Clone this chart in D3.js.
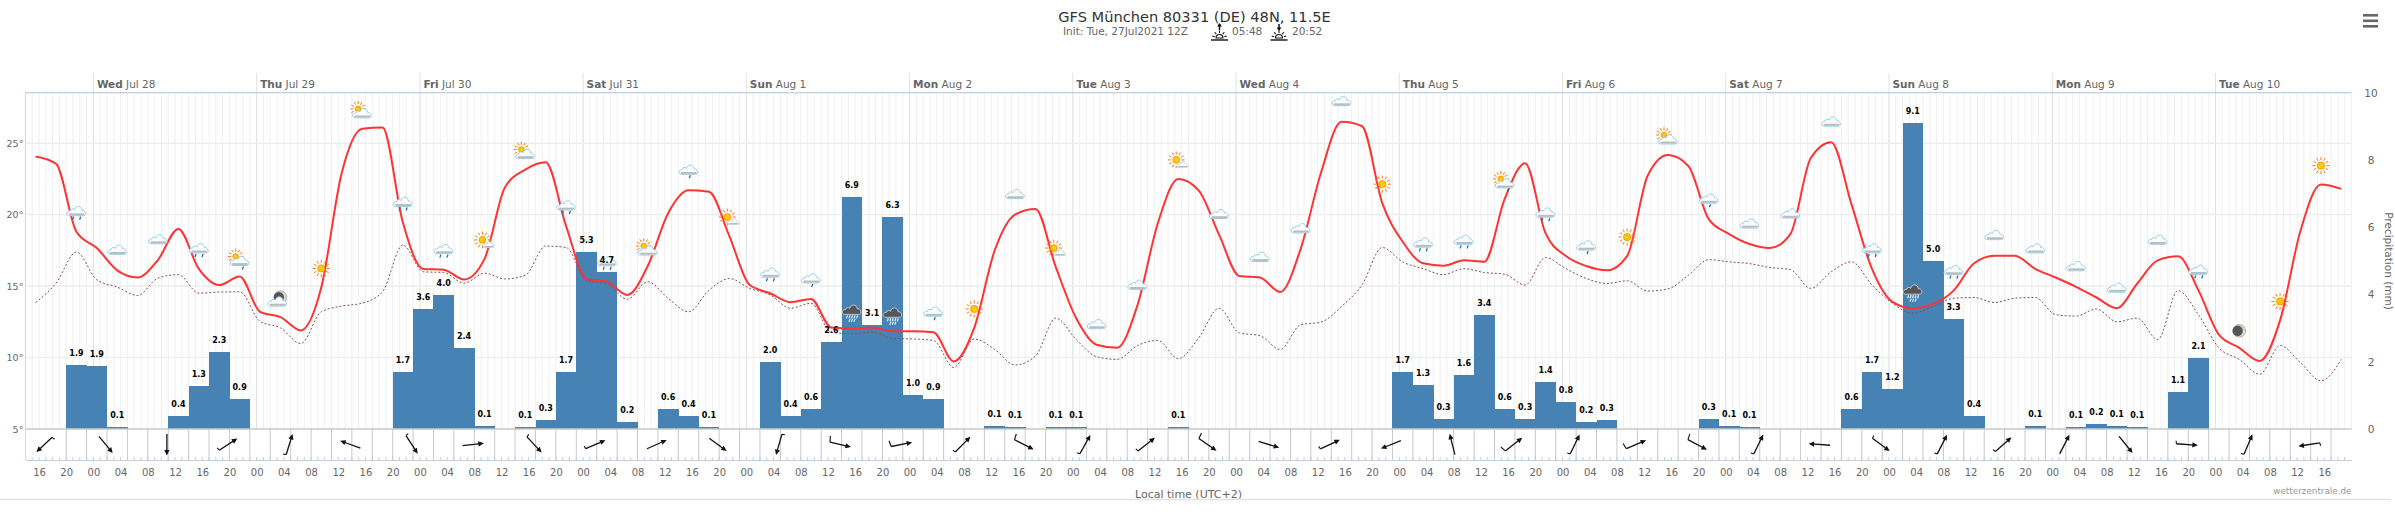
<!DOCTYPE html>
<html>
<head>
<meta charset="utf-8">
<script src="https://cdn.jsdelivr.net/npm/d3@7"></script>
<style>
  html, body { margin: 0; padding: 0; background: #fff; }
  svg { display: block; font-family: "DejaVu Sans", sans-serif; }
  .tick text { fill: #666; }
</style>
</head>
<body>
<div id="plot"></div>
<script>
const W = 2395, H = 514;
const plotLeft = 25.4, plotRight = 2351.5, plotTop = 92.7, base = 429, windBottom = 460;

// 3-hourly 2m temperature, first value at Jul 27 15:30 local
const temp = [
  24.07, 23.56, 18.8, 17.66, 16.1, 15.6, 16.84, 19.0, 16.2, 15.07, 15.67, 13.2, 12.83, 11.9, 14.9, 22.9,
  26.0, 26.09, 19.45, 16.2, 16.15, 15.46, 16.9, 21.9, 23.15, 23.66, 19.2, 15.5, 15.3, 14.38, 16.4, 20.1,
  21.7, 21.6, 18.5, 15.07, 14.5, 13.87, 14.1, 12.1, 12.04, 12.1, 11.84, 11.84, 11.77, 9.73, 12.07, 17.47,
  20.0, 20.4, 16.33, 12.75, 10.9, 10.68, 13.65, 19.4, 22.5, 21.7, 18.6, 15.7, 15.6, 14.58, 17.6, 22.95,
  26.5, 26.2, 20.8, 18.1, 16.6, 16.43, 16.8, 16.7, 21.1, 23.6, 18.7, 17.1, 16.4, 16.1, 17.1, 22.7,
  24.17, 23.4, 19.68, 18.64, 17.94, 17.66, 18.64, 23.96, 25.07, 20.7, 16.2, 13.9, 13.45, 13.75, 14.68, 16.6,
  17.13, 17.13, 16.2, 15.6, 14.95, 14.2, 13.45, 15.18, 16.8, 17.08, 14.7, 11.6, 10.68, 9.76, 12.6, 18.87,
  22.1, 21.8
];

// dew point, same times
const dew = [
  13.85, 15.2, 17.38, 15.44, 14.93, 14.34, 15.56, 15.8, 14.5, 14.58, 14.6, 12.53, 12.07, 10.98, 13.2, 13.6,
  13.8, 14.6, 17.87, 16.0, 15.95, 15.2, 15.9, 15.5, 15.76, 17.8, 17.7, 15.4, 15.14, 14.08, 15.3, 14.15,
  13.2, 14.7, 15.53, 14.84, 14.38, 13.45, 13.8, 11.77, 11.67, 11.77, 11.33, 11.3, 11.2, 9.3, 11.3, 10.57,
  9.48, 10.1, 12.76, 11.26, 10.06, 9.87, 10.84, 11.2, 9.92, 11.37, 13.45, 11.72, 11.53, 10.57, 12.3, 12.48,
  13.57, 15.07, 17.7, 16.69, 16.22, 15.8, 16.22, 15.95, 15.83, 15.07, 17.0, 16.22, 15.53, 15.18, 15.37, 14.65,
  14.8, 15.76, 16.85, 16.7, 16.57, 16.3, 16.15, 14.84, 16.0, 16.7, 15.07, 13.8, 13.1, 13.57, 14.15, 14.2,
  13.85, 14.15, 14.2, 13.0, 12.9, 13.4, 12.5, 12.76, 11.26, 14.68, 13.0, 10.68, 9.87, 8.83, 10.84, 9.64,
  8.37, 9.87
];

// 3h precipitation (mm), first bar starts Jul 27 20:00
const precip = [
  1.9, 1.87, 0.05, 0, 0, 0.4, 1.28, 2.3, 0.9, 0, 0, 0, 0, 0, 0, 0,
  1.7, 3.56, 3.97, 2.41, 0.1, 0, 0.05, 0.28, 1.7, 5.27, 4.67, 0.2, 0, 0.6, 0.4, 0.05,
  0, 0, 2.0, 0.4, 0.6, 2.6, 6.9, 3.1, 6.3, 1.0, 0.9, 0, 0, 0.1, 0.05, 0,
  0.05, 0.05, 0, 0, 0, 0, 0.05, 0, 0, 0, 0, 0, 0, 0, 0, 0,
  0, 1.7, 1.3, 0.3, 1.6, 3.4, 0.6, 0.3, 1.4, 0.8, 0.2, 0.26, 0, 0, 0, 0,
  0.3, 0.1, 0.05, 0, 0, 0, 0, 0.6, 1.7, 1.2, 9.1, 5.0, 3.26, 0.4, 0, 0,
  0.1, 0, 0.05, 0.16, 0.1, 0.05, 0, 1.1, 2.1
];

// wind arrows every 9h: [bearing the arrow points to, barb size]
const wind = [
  [227, 1], [140, 0], [180, 0], [57, 1], [17, 1], [290, 0], [147, 1], [84, 0], [137, 1], [67, 1],
  [66, 0], [126, 0], [196, 1], [103, 2], [79, 2], [45, 1], [117, 2], [29, 1], [52, 1], [125, 2],
  [107, 0], [65, 1], [248, 0], [346, 0], [52, 2], [26, 1], [67, 2], [118, 2], [26, 1], [274, 0],
  [127, 1], [27, 1], [48, 1], [27, 0], [141, 0], [94, 1], [23, 1], [261, 1]
];

// weather symbols on every second temperature point, starting at index 2
const icons = [
  'r2', 'c', 'c', 'r2', 'psr', 'mc', 's', 'ps', 'r2', 'r2', 'sm', 'ps', 'r2', 'r2', 'ps', 'r1',
  'sm', 'r2', 'r1', 'd', 'd', 'r1', 's', 'c', 'sm', 'c', 'c', 'sm', 'c', 'c', 'c', 'c',
  's', 'r2', 'r2', 'psr', 'r2', 'r1', 's', 'ps', 'r1', 'c', 'c', 'c', 'r2', 'd', 'r2', 'c',
  'c', 'c', 'c', 'c', 'r2', 'm', 's', 's'
];

const t0 = Date.UTC(2021, 6, 28);
const hour = h => new Date(t0 + h * 3600e3);

const x = d3.scaleUtc().domain([hour(-10), hour(332)]).range([plotLeft, plotRight]);
const yTemp = d3.scaleLinear().domain([5, 28.53]).range([base, plotTop]);
const yPrecip = d3.scaleLinear().domain([0, 10]).range([base, plotTop]);

const svg = d3.select('#plot').append('svg').attr('width', W).attr('height', H);

// minor hourly grid
svg.append('g').selectAll('line')
  .data(d3.utcHour.every(1).range(hour(-10), hour(332.1)))
  .enter().append('line')
  .attr('x1', d => x(d)).attr('x2', d => x(d))
  .attr('y1', plotTop).attr('y2', base)
  .attr('stroke', '#f0f0f0').attr('stroke-width', 1);

// day lines, they stick out above the plot
const days = d3.utcDay.range(hour(0), hour(332));
svg.append('g').selectAll('line')
  .data(days)
  .enter().append('line')
  .attr('x1', d => x(d)).attr('x2', d => x(d))
  .attr('y1', 73).attr('y2', base)
  .attr('stroke', '#dfe3e8').attr('stroke-width', 1);

const dayLabel = svg.append('g').selectAll('text')
  .data(days)
  .enter().append('text')
  .attr('x', d => x(d) + 3.5)
  .attr('y', 88)
  .attr('font-size', 10.5)
  .attr('fill', '#666');
dayLabel.append('tspan').attr('font-weight', 'bold').text(d => d3.utcFormat('%a')(d));
dayLabel.append('tspan').text(d => d3.utcFormat(' %b %-d')(d));

// horizontal grid
svg.append('g').selectAll('line')
  .data([10, 15, 20, 25])
  .enter().append('line')
  .attr('x1', plotLeft).attr('x2', plotRight)
  .attr('y1', d => yTemp(d)).attr('y2', d => yTemp(d))
  .attr('stroke', '#eeeeee').attr('stroke-width', 1.5);

// top and left edges
svg.append('line').attr('x1', plotLeft).attr('x2', plotRight).attr('y1', plotTop).attr('y2', plotTop)
  .attr('stroke', '#c0d0e0').attr('stroke-width', 1.2);
svg.append('line').attr('x1', plotLeft).attr('x2', plotLeft).attr('y1', plotTop).attr('y2', windBottom)
  .attr('stroke', '#d8d8d8').attr('stroke-width', 1);

// bars
const bw = x(hour(3)) - x(hour(0));
const barData = precip.map((v, i) => ({ v, h: -4 + 3 * i })).filter(d => d.v > 0);
svg.append('g').attr('shape-rendering', 'crispEdges').selectAll('rect')
  .data(barData)
  .enter().append('rect')
  .attr('x', d => x(hour(d.h)))
  .attr('width', bw + 0.3)
  .attr('y', d => yPrecip(d.v))
  .attr('height', d => base - yPrecip(d.v))
  .attr('fill', '#4682b4');

// temperature lines
const pts = i => hour(-8.5 + 3 * i);
const line = d3.line()
  .x((d, i) => x(pts(i)))
  .y(d => yTemp(d))
  .curve(d3.curveMonotoneX);

svg.append('path').attr('d', line(dew))
  .attr('fill', 'none').attr('stroke', '#8e4a58').attr('stroke-width', 1)
  .attr('stroke-dasharray', '2,2');
svg.append('path').attr('d', line(temp))
  .attr('fill', 'none').attr('stroke', '#ff3333').attr('stroke-width', 2);

// weather symbols
const cloudPath = 'M-7,4 C-10.5,4 -10.5,-1 -6,-1 C-6,-3 -3.5,-3.5 -2,-2 C-1,-6.5 5,-6.5 5.5,-1.5 C9.5,-2 10.5,4 7,4 Z';

function drawCloud(g, dark) {
  g.append('path').attr('d', cloudPath)
    .attr('fill', dark ? '#565656' : '#fbfdff')
    .attr('stroke', dark ? '#d0d0d0' : '#8ccae8').attr('stroke-width', 0.9);
  if (!dark) {
    g.append('rect').attr('x', -7.5).attr('y', 1.6).attr('width', 15.5).attr('height', 2)
      .attr('fill', '#bcbcbc');
  }
}

function drawSun(g, cx, cy, r) {
  d3.range(12).forEach(k => {
    const a = k * Math.PI / 6;
    g.append('line')
      .attr('x1', cx + Math.cos(a) * (r + 2)).attr('y1', cy + Math.sin(a) * (r + 2))
      .attr('x2', cx + Math.cos(a) * (r + 5)).attr('y2', cy + Math.sin(a) * (r + 5))
      .attr('stroke', '#ff7a10').attr('stroke-width', 1);
  });
  g.append('circle').attr('cx', cx).attr('cy', cy).attr('r', r)
    .attr('fill', '#ffcc00').attr('stroke', '#ff8800').attr('stroke-width', 0.8);
}

function drawDrops(g, xs, y, color) {
  xs.forEach(dx => {
    g.append('line')
      .attr('x1', dx + 0.8).attr('y1', y).attr('x2', dx - 0.3).attr('y2', y + 3)
      .attr('stroke', color).attr('stroke-width', 1.3);
  });
}

function drawMoon(g, cx, cy) {
  g.append('circle').attr('cx', cx).attr('cy', cy).attr('r', 6.3)
    .attr('fill', '#dcdccc').attr('stroke', '#888').attr('stroke-width', 0.6);
  g.append('circle').attr('cx', cx - 1.6).attr('cy', cy).attr('r', 5.2).attr('fill', '#555');
}

function drawIcon(g, type) {
  if (type === 'c') drawCloud(g);
  if (type === 'r1') { drawCloud(g); drawDrops(g, [1], 5, '#1f6fb0'); }
  if (type === 'r2') { drawCloud(g); drawDrops(g, [-3.5, 3.5], 5, '#1f6fb0'); }
  if (type === 'd') {
    const gd = g.append('g').attr('transform', 'translate(0,2)');
    drawCloud(gd, true);
    drawDrops(gd, [-5, -2.5, 0, 2.5, 5], 5, '#cfe8f8');
    drawDrops(gd, [-2.5, 0, 2.5], 8.5, '#cfe8f8');
  }
  if (type === 's') drawSun(g, 0, 1, 3.6);
  if (type === 'sm') {
    drawSun(g, -2, 1, 3.4);
    const c = g.append('g').attr('transform', 'translate(4,6) scale(.62)');
    drawCloud(c);
  }
  if (type === 'ps' || type === 'psr') {
    drawSun(g, -4, 0, 2.8);
    const c = g.append('g').attr('transform', 'translate(0,5)');
    drawCloud(c);
    if (type === 'psr') drawDrops(g, [3], 10, '#1f6fb0');
  }
  if (type === 'm') drawMoon(g, 0, 3);
  if (type === 'mc') {
    drawMoon(g, 0, 0);
    const c = g.append('g').attr('transform', 'translate(-3,5)');
    drawCloud(c);
  }
}

svg.append('g').selectAll('g')
  .data(icons)
  .enter().append('g')
  .attr('transform', (d, i) => {
    const k = 2 + i * 2;
    return `translate(${x(pts(k))},${yTemp(temp[k]) - 20})`;
  })
  .each(function(d) { drawIcon(d3.select(this), d); });

// bar labels
svg.append('g').selectAll('text')
  .data(barData)
  .enter().append('text')
  .attr('x', d => x(hour(d.h)) + bw / 2)
  .attr('y', d => yPrecip(d.v) - 9)
  .attr('text-anchor', 'middle')
  .attr('font-size', 8)
  .attr('font-weight', 'bold')
  .attr('fill', '#000')
  .text(d => d3.format('.1f')(d.v));

// wind panel
svg.append('g').selectAll('line')
  .data(d3.range(0, 112))
  .enter().append('line')
  .attr('x1', d => x(hour(-4 + 3 * d))).attr('x2', d => x(hour(-4 + 3 * d)))
  .attr('y1', base).attr('y2', windBottom)
  .attr('stroke', '#c9c9c9').attr('stroke-width', 1);

const arrows = svg.append('g').selectAll('g')
  .data(wind)
  .enter().append('g')
  .attr('transform', (d, i) => `translate(${x(hour(-7.2 + 9 * i))},444.5) rotate(${d[0]})`);
arrows.append('line')
  .attr('x1', 0).attr('y1', 10.5).attr('x2', 0).attr('y2', -8)
  .attr('stroke', '#111').attr('stroke-width', 1.3);
arrows.append('path').attr('d', 'M0,-11 L2.6,-5.5 L-2.6,-5.5 Z').attr('fill', '#111');
arrows.filter(d => d[1] > 0).append('line')
  .attr('x1', 0).attr('y1', 10.5)
  .attr('x2', d => d[1] === 2 ? -6 : -3).attr('y2', d => d[1] === 2 ? 11.5 : 11)
  .attr('stroke', '#111').attr('stroke-width', 1.1);

// base line of the plot
svg.append('line').attr('x1', plotLeft).attr('x2', plotRight).attr('y1', base).attr('y2', base)
  .attr('stroke', '#c8c8c8').attr('stroke-width', 1.6);

// bottom axis
const xAxis = d3.axisBottom(x)
  .tickValues(d3.utcHour.every(4).range(hour(-8), hour(329)))
  .tickFormat(d3.utcFormat('%H'))
  .tickSize(0)
  .tickPadding(9);
const gx = svg.append('g').attr('transform', `translate(0,${windBottom})`).call(xAxis);
gx.select('.domain').attr('stroke', '#c0d0e0').attr('stroke-width', 1.2);
gx.selectAll('text').attr('font-size', 10).attr('font-family', '"DejaVu Sans", sans-serif');

// minor ticks above the axis line
svg.append('g').selectAll('line')
  .data(d3.utcHour.every(1).range(hour(-9), hour(332)))
  .enter().append('line')
  .attr('x1', d => x(d)).attr('x2', d => x(d))
  .attr('y1', windBottom - 3).attr('y2', windBottom)
  .attr('stroke', '#c8ccd0').attr('stroke-width', 1);

// temperature and precipitation axes
const gl = svg.append('g').attr('transform', `translate(${plotLeft},0)`)
  .call(d3.axisLeft(yTemp).tickValues([5, 10, 15, 20, 25]).tickFormat(d => d + '°').tickSize(0).tickPadding(2));
gl.select('.domain').remove();
gl.selectAll('text').attr('font-size', 9.5).attr('font-family', '"DejaVu Sans", sans-serif');

const gr = svg.append('g').attr('transform', `translate(${plotRight + 19.5},0)`)
  .call(d3.axisRight(yPrecip).tickValues([0, 2, 4, 6, 8, 10]).tickFormat(d3.format('d')).tickSize(0).tickPadding(0));
gr.select('.domain').remove();
gr.selectAll('text').attr('text-anchor', 'middle').attr('font-size', 10.5)
  .attr('font-family', '"DejaVu Sans", sans-serif');

svg.append('text')
  .attr('transform', 'translate(2384.5,261) rotate(90)')
  .attr('text-anchor', 'middle')
  .attr('font-size', 10.5)
  .attr('fill', '#666')
  .text('Precipitation (mm)');

// titles
svg.append('text')
  .attr('x', 1194.5).attr('y', 22)
  .attr('text-anchor', 'middle')
  .attr('font-size', 14.6)
  .attr('fill', '#333')
  .text('GFS München 80331 (DE) 48N, 11.5E');

const sub = [[1063, 'Init: Tue, 27Jul2021 12Z'], [1232, '05:48'], [1292, '20:52']];
svg.append('g').selectAll('text')
  .data(sub)
  .enter().append('text')
  .attr('x', d => d[0]).attr('y', 35)
  .attr('font-size', 10.5)
  .attr('fill', '#666')
  .text(d => d[1]);

// sunrise and sunset glyphs
function sunGlyph(cx, up) {
  const g = svg.append('g').attr('transform', `translate(${cx},0)`).attr('stroke', '#111').attr('fill', 'none');
  g.append('line').attr('x1', -8.5).attr('x2', 8.5).attr('y1', 40).attr('y2', 40).attr('stroke-width', 1.4);
  g.append('path').attr('d', 'M-3.5,38 A3.5,3.5 0 0 1 3.5,38 Z').attr('stroke-width', 1.1);
  [-75, -40, 0, 40, 75].forEach(a => {
    const r = a * Math.PI / 180;
    g.append('line')
      .attr('x1', Math.sin(r) * 5).attr('y1', 38 - Math.cos(r) * 5)
      .attr('x2', Math.sin(r) * 7.5).attr('y2', 38 - Math.cos(r) * 7.5)
      .attr('stroke-width', 1.1);
  });
  g.append('line').attr('x1', 0).attr('x2', 0).attr('y1', 24).attr('y2', 30).attr('stroke-width', 1.5);
  const tipY = up ? 23 : 31;
  const tailY = up ? 26.5 : 27.5;
  g.append('path').attr('d', `M0,${tipY} L2.4,${tailY} L-2.4,${tailY} Z`).attr('fill', '#111').attr('stroke', 'none');
}
sunGlyph(1219.5, true);
sunGlyph(1279, false);

// export menu
svg.append('g').selectAll('rect')
  .data([14, 19.5, 25])
  .enter().append('rect')
  .attr('x', 2363).attr('y', d => d).attr('width', 15).attr('height', 2.6)
  .attr('fill', '#666');

// footer
svg.append('text')
  .attr('x', 1188.5).attr('y', 498)
  .attr('text-anchor', 'middle')
  .attr('font-size', 11)
  .attr('fill', '#666')
  .text('Local time (UTC+2)');
svg.append('text')
  .attr('x', plotRight).attr('y', 494)
  .attr('text-anchor', 'end')
  .attr('font-size', 8.8)
  .attr('fill', '#999')
  .text('wetterzentrale.de');
svg.append('line').attr('x1', 0).attr('x2', 2391).attr('y1', 499.5).attr('y2', 499.5)
  .attr('stroke', '#e2e2e2').attr('stroke-width', 1.5);
</script>
</body>
</html>
